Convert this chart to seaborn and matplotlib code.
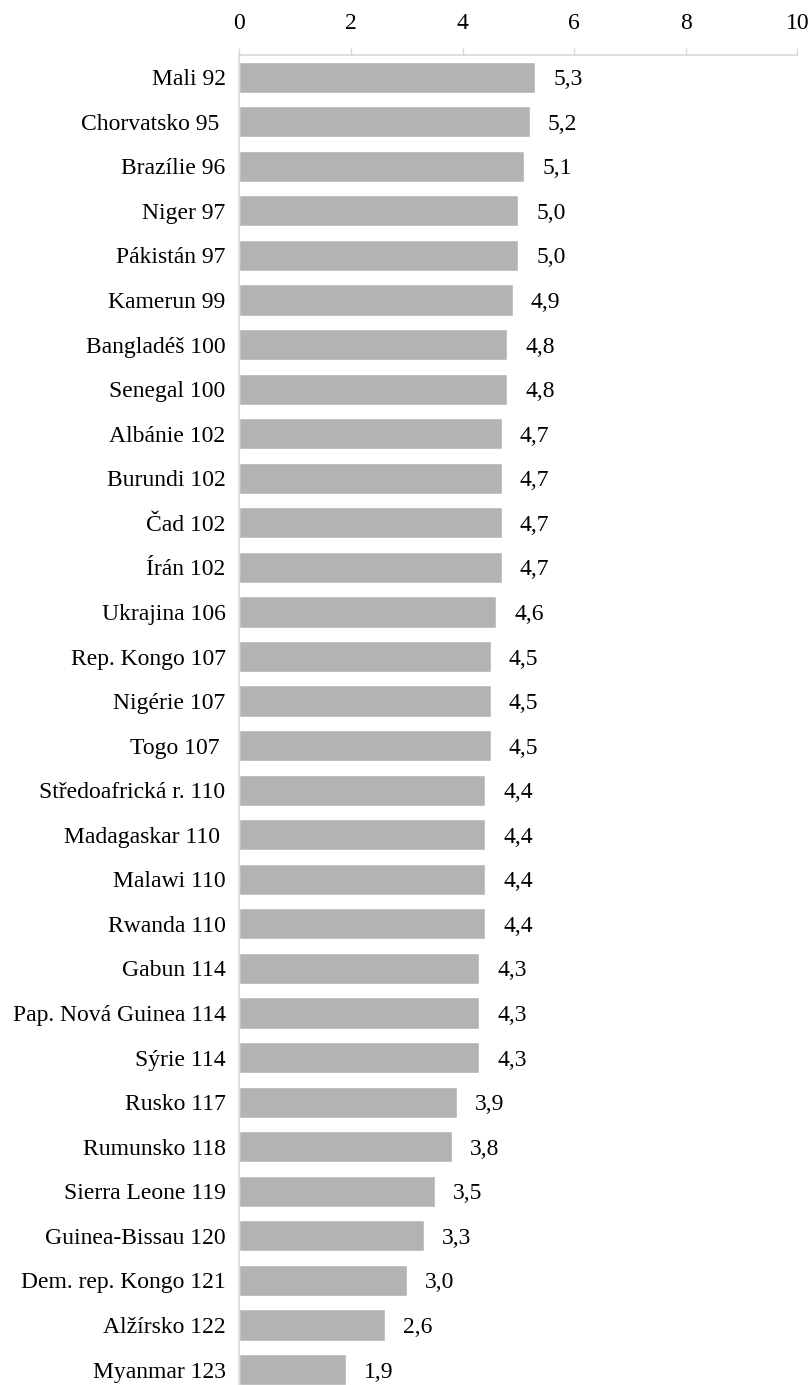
import matplotlib
matplotlib.use("Agg")
import matplotlib.pyplot as plt
import seaborn as sns
import pandas as pd

countries = [
    "Mali 92", "Chorvatsko 95 ", "Brazílie 96", "Niger 97", "Pákistán 97",
    "Kamerun 99", "Bangladéš 100", "Senegal 100", "Albánie 102", "Burundi 102",
    "Čad 102", "Írán 102", "Ukrajina 106", "Rep. Kongo 107", "Nigérie 107",
    "Togo 107 ", "Středoafrická r. 110", "Madagaskar 110 ", "Malawi 110",
    "Rwanda 110", "Gabun 114", "Pap. Nová Guinea 114", "Sýrie 114",
    "Rusko 117", "Rumunsko 118", "Sierra Leone 119", "Guinea-Bissau 120",
    "Dem. rep. Kongo 121", "Alžírsko 122", "Myanmar 123",
]
scores = [
    5.3, 5.2, 5.1, 5.0, 5.0, 4.9, 4.8, 4.8, 4.7, 4.7,
    4.7, 4.7, 4.6, 4.5, 4.5, 4.5, 4.4, 4.4, 4.4, 4.4,
    4.3, 4.3, 4.3, 3.9, 3.8, 3.5, 3.3, 3.0, 2.6, 1.9,
]
x_ticks = [0, 2, 4, 6, 8, 10]

df = pd.DataFrame({"country": countries, "score": scores})

sns.set_theme(style="white")
plt.rcParams["font.family"] = ["Liberation Serif", "DejaVu Serif"]

FS = 17
W, H = 812, 1385
fig = plt.figure(figsize=(W / 100, H / 100), dpi=100)
left, right, top, bottom = 239.5, 797.5, 54.9, 1391.8
ax = fig.add_axes([left / W, 1 - bottom / H, (right - left) / W, (bottom - top) / H])

sns.barplot(data=df, x="score", y="country", orient="h", color="#b3b3b3",
            saturation=1, width=0.7, ax=ax)

for container in ax.containers:
    texts = ax.bar_label(container,
                         labels=[f"{v:.1f}".replace(".", ",") for v in scores],
                         padding=13, fontsize=FS, color="black")
    for t in texts:
        t.set_verticalalignment("center_baseline")

ax.set_xlim(0, 10)
ax.set_xticks(x_ticks)
ax.set_xticklabels([str(t) for t in x_ticks], fontsize=FS)
ax.xaxis.tick_top()
ax.set_xlabel("")
ax.set_ylabel("")
ax.tick_params(axis="x", top=True, bottom=False, length=5, width=1,
               color="#d9d9d9", pad=10, labelcolor="black")
ax.tick_params(axis="y", left=False, length=0, pad=10, labelsize=FS,
               labelcolor="black")
for lbl in ax.get_yticklabels():
    lbl.set_verticalalignment("center_baseline")

for side in ["right", "bottom"]:
    ax.spines[side].set_visible(False)
for side in ["top", "left"]:
    ax.spines[side].set_visible(True)
    ax.spines[side].set_color("#d9d9d9")
    ax.spines[side].set_linewidth(1.2)

fig.savefig("out.png", dpi=100)
